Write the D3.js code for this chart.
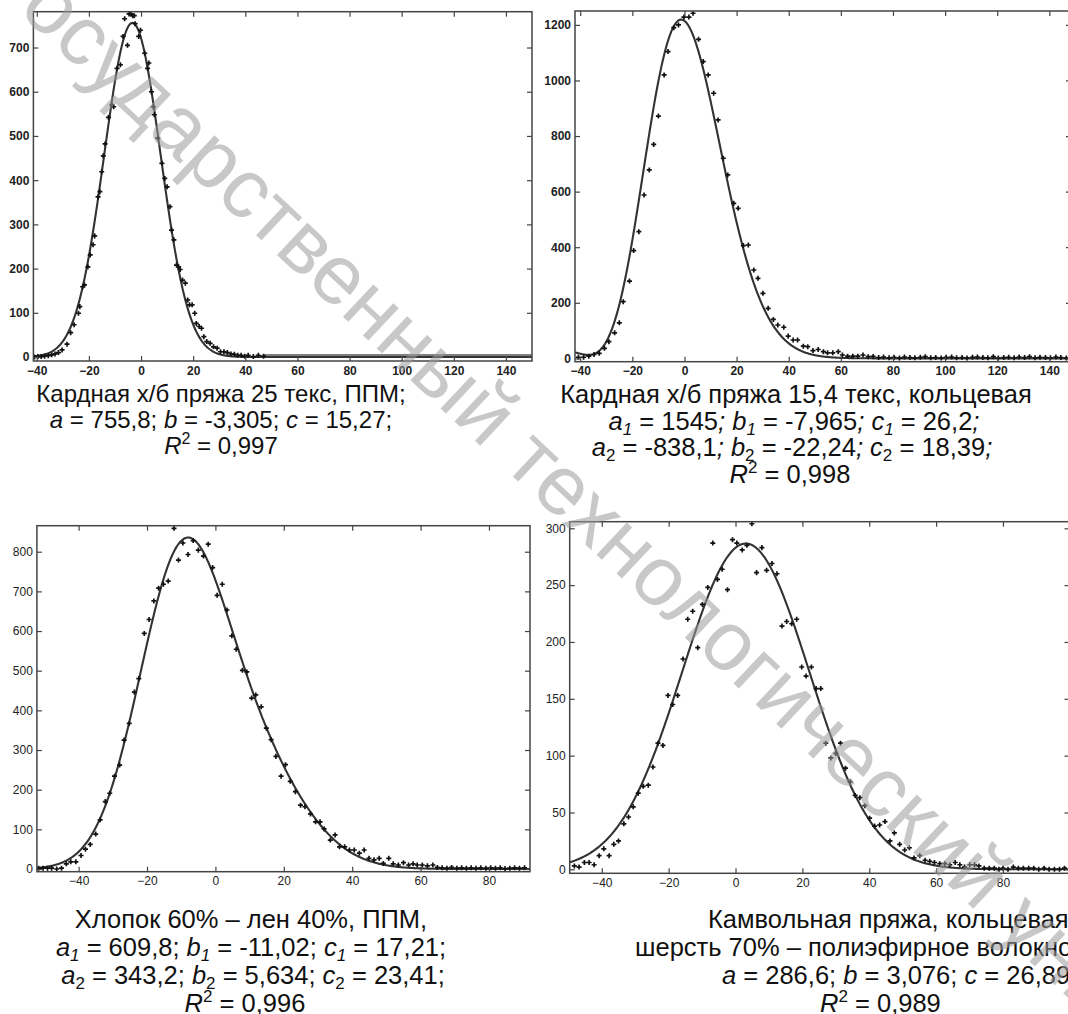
<!DOCTYPE html>
<html>
<head>
<meta charset="utf-8">
<script src="https://cdn.jsdelivr.net/npm/d3@7"></script>
<style>
  body { margin: 0; background: #fff; }
  svg { display: block; }
  text { font-family: "Liberation Sans", Arial, sans-serif; }
</style>
</head>
<body>
<svg id="chart" width="1068" height="1014"></svg>
<script>
// ---- panel 1: кардная х/б 25 текс, ППМ
var x1 = [-40.9, -39.6, -38.3, -37.0, -35.6, -34.3, -33.0, -31.7, -30.3, -28.4, -27.0, -25.7, -24.0, -23.5, -22.4, -21.7,
  -20.4, -19.5, -18.4, -17.8, -16.5, -15.8, -15.1, -14.5, -13.8, -12.5, -11.2, -10.5, -9.2, -7.9, -6.9, -6.3, -5.2, -4.6,
  -3.9, -3.2, -2.6, -2.3, -0.9, -0.2, 1.4, 2.5, 3.0, 4.0, 4.7, 5.1, 6.4, 8.0, 9.1, 10.0, 11.1, 11.7, 12.6, 13.6, 14.4, 15.0,
  15.9, 17.0, 17.9, 18.6, 19.6, 20.6, 21.2, 22.3, 23.2, 24.1, 25.2, 26.5, 27.8, 29.2, 30.5, 31.8, 33.1, 34.5, 35.8, 37.1,
  38.4, 39.8, 41.1, 43.1, 45.0, 47.0];
var y1 = [0, 1, 1, 2, 3, 5, 7, 10, 16, 29, 55, 73, 99, 114, 159, 163,
  204, 231, 254, 274, 362, 374, 419, 455, 482, 542, 570, 566, 653, 661, 725, 765, 705, 776,
  776, 772, 772, 754, 725, 739, 687, 653, 665, 600, 566, 548, 495, 438, 404, 385, 340, 287, 265, 208, 204, 198,
  174, 167, 129, 118, 118, 99, 76, 69, 65, 46, 35, 31, 23, 20, 12, 12, 10, 7, 6, 4,
  4, 2, 4, 1, 4, 2];
var tail1 = [[47, 4.5], [150, 4.5]];
var fit1 = [755.8, -3.305, 15.27];

// ---- panel 2: кардная х/б 15,4 текс, кольцевая
var x2 = [-40.7, -38.7, -36.7, -34.7, -32.7, -30.7, -29.0, -26.8, -25.0, -23.5, -21.1, -19.5, -17.5, -15.5, -13.5, -11.8,
  -10.0, -7.8, -6.3, -4.1, -2.3, -0.2, 1.7, 3.3, 5.4, 7.2, 9.1, 11.2, 12.9, 14.9, 16.6, 18.9, 20.6, 22.6, 24.5, 26.6,
  28.2, 30.1, 32.1, 34.1, 35.8, 38.1, 39.8, 41.7, 43.4, 45.6, 47.3, 49.3, 51.3, 53.3, 54.9, 56.9, 59.0, 60.6, 62.6, 64.6,
  66.5, 68.5, 70.5, 72.4, 74.5, 76.4, 78.5, 80.4, 82.5, 84.4, 86.5, 88.4, 90.5, 92.4, 94.5, 96.4, 98.5, 100.4, 102.5,
  104.4, 106.5, 108.4, 110.5, 112.4, 114.5, 116.4, 118.5, 120.4, 122.5, 124.4, 126.5, 128.4, 130.5, 132.4, 134.5, 136.4,
  138.5, 140.4, 142.5, 144.4, 146.5, 148.4];
var y2 = [4, 4, 8, 14, 18, 36, 60, 92, 128, 204, 278, 388, 456, 588, 678, 770,
  872, 1020, 1104, 1190, 1200, 1228, 1228, 1242, 1148, 1068, 1020, 954, 858, 720, 660, 558, 540, 406, 408, 318,
  288, 234, 180, 140, 120, 112, 80, 66, 66, 44, 42, 28, 32, 24, 20, 20, 24, 12, 8, 8,
  8, 12, 6, 7, 3, 5, 2, 4, 1, 5, 3, 2, 4, 6, 2, 3, 1, 4,
  5, 2, 3, 1, 4, 5, 3, 2, 6, 1, 3, 4, 2, 5, 3, 6, 2,
  4, 3, 2, 5, 3, 1, 4];
var fit2 = [1545, -7.965, 26.2, -838.1, -22.24, 18.39];

// ---- panel 3: хлопок 60% - лен 40%, ППМ
var x3 = [-51.7, -50.4, -49.1, -47.9, -46.4, -45.0, -43.6, -42.3, -40.8, -39.3, -38.0, -36.6, -35.0, -33.7, -32.2, -30.9,
  -29.5, -28.0, -26.7, -25.2, -23.7, -22.4, -20.8, -19.4, -18.0, -16.6, -15.2, -13.8, -12.1, -10.8, -9.5, -8.0, -6.5, -5.0,
  -3.5, -2.1, -0.8, 0.5, 2.0, 3.4, 4.8, 6.1, 7.9, 9.2, 10.6, 11.8, 13.4, 14.9, 16.3, 17.7, 19.2, 20.5, 21.9, 23.4, 24.9,
  26.2, 27.8, 29.3, 30.6, 31.8, 33.6, 35.0, 36.3, 37.8, 39.2, 40.6, 42.1, 43.5, 44.9, 46.4, 47.9, 49.1, 50.7, 52.0, 53.5,
  55.0, 56.5, 57.8, 59.0, 60.5, 62.0, 63.6, 64.9, 66.3, 67.7, 69.1, 70.6, 72.0, 73.4, 74.8, 76.2, 77.6, 79.1, 80.5, 81.9,
  83.3, 84.7, 86.1, 87.5, 88.9, 90.4];
var y3 = [2, 2, 2, 2, 0, 2, 13, 18, 18, 34, 50, 62, 88, 124, 170, 191,
  234, 262, 325, 367, 446, 480, 594, 629, 676, 708, 718, 726, 859, 779, 822, 793, 828, 804,
  789, 819, 760, 690, 718, 653, 588, 554, 501, 497, 431, 439, 409, 355, 326, 284, 234, 263, 221, 195, 161,
  157, 139, 119, 119, 101, 73, 86, 56, 56, 48, 48, 40, 48, 27, 23, 27, 14, 27, 13, 10,
  16, 10, 13, 10, 10, 8, 10, 4, 3, 2, 4, 2, 3, 2, 3, 2, 3, 2, 3, 2,
  3, 1, 2, 3, 2, 3];
var fit3 = [609.8, -11.02, 17.21, 343.2, 5.634, 23.41];

// ---- panel 4: камвольная, шерсть 70% - полиэфир
var x4 = [-48.2, -46.8, -45.2, -43.8, -42.3, -40.8, -39.4, -37.8, -36.4, -35.0, -33.4, -32.0, -30.6, -29.1, -27.6, -26.1,
  -24.7, -23.2, -21.7, -20.2, -18.8, -17.3, -15.7, -14.3, -12.8, -11.3, -9.9, -8.3, -6.8, -5.4, -4.0, -2.4, -0.9, 0.4,
  2.0, 3.4, 4.9, 6.3, 7.9, 9.3, 10.9, 12.4, 13.9, 15.3, 16.8, 18.3, 19.8, 21.1, 22.7, 24.1, 25.5, 27.0, 28.5, 30.0, 31.4,
  32.9, 34.3, 35.8, 37.2, 38.7, 40.1, 41.6, 43.1, 44.7, 46.2, 47.5, 49.1, 50.6, 52.0, 53.4, 55.1, 56.7, 58.1, 59.5, 61.1,
  62.6, 64.1, 65.7, 67.1, 68.5, 70.1, 71.5, 72.8, 74.4, 75.9, 77.4, 78.8, 80.0, 81.5, 83.1, 84.6, 86.1, 87.7, 89.2, 90.7,
  92.3, 93.8, 95.4, 96.9, 98.4];
var y4 = [3, 2, 6, 6, 4, 12, 18, 12, 22, 25, 40, 46, 55, 67, 73, 74,
  90, 111, 109, 153, 145, 153, 185, 220, 227, 195, 233, 248, 287, 255, 264, 246, 290, 287,
  281, 285, 304, 261, 283, 263, 269, 260, 214, 218, 216, 220, 178, 170, 178, 159, 159, 111, 98, 102, 111,
  89, 77, 65, 63, 56, 45, 38, 39, 42, 25, 32, 22, 17, 19, 10, 12, 8, 7, 6, 5,
  5, 4, 6, 4, 2, 4, 4, 3, 1, 1, 1, 0, 1, 0, 2, 1, 1, 1, 1, 0,
  1, 0, 0, 0, 1];
var fit4 = [286.6, 3.076, 26.89];

// axis limits and ticks
var xLim1 = [-41.3, 150], yLim1 = [-9, 781];
var xLim2 = [-42, 148.3], yLim2 = [-12, 1250];
var xLim3 = [-52.2, 92], yLim3 = [-6.8, 865.6];
var xLim4 = [-49.6, 99.9], yLim4 = [-3.5, 305.8];
var xTicksTop = [-40, -20, 0, 20, 40, 60, 80, 100, 120, 140];
var xTicksBottom = [-40, -20, 0, 20, 40, 60, 80];
var yTicks1 = [0, 100, 200, 300, 400, 500, 600, 700];
var yTicks2 = [0, 200, 400, 600, 800, 1000, 1200];
var yTicks3 = [0, 100, 200, 300, 400, 500, 600, 700, 800];
var yTicks4 = [0, 50, 100, 150, 200, 250, 300];

// captions: [text, style]  style: i = italic, sub, isub, sup
var cap1 = [
  [["Кардная х/б пряжа 25 текс, ППМ;"]],
  [["a", "i"], [" = 755,8; "], ["b", "i"], [" = -3,305; "], ["c", "i"], [" = 15,27;"]],
  [["R", "i"], ["2", "sup"], [" = 0,997"]]
];
var cap2 = [
  [["Кардная х/б пряжа 15,4 текс, кольцевая"]],
  [["a", "i"], ["1", "isub"], [" = 1545"], ["; b", "i"], ["1", "isub"], [" = -7,965"], ["; c", "i"], ["1", "isub"], [" = 26,2"], [";", "i"]],
  [["a", "i"], ["2", "sub"], [" = -838,1"], ["; b", "i"], ["2", "sub"], [" = -22,24"], ["; c", "i"], ["2", "sub"], [" = 18,39"], [";", "i"]],
  [["R", "i"], ["2", "sup"], [" = 0,998"]]
];
var cap3 = [
  [["Хлопок 60% – лен 40%, ППМ,"]],
  [["a", "i"], ["1", "isub"], [" = 609,8; "], ["b", "i"], ["1", "isub"], [" = -11,02; "], ["c", "i"], ["1", "isub"], [" = 17,21;"]],
  [["a", "i"], ["2", "sub"], [" = 343,2; "], ["b", "i"], ["2", "sub"], [" = 5,634; "], ["c", "i"], ["2", "sub"], [" = 23,41;"]],
  [["R", "i"], ["2", "sup"], [" = 0,996"]]
];
var cap4 = [
  [["Камвольная пряжа, кольцевая,"]],
  [["шерсть 70% – полиэфирное волокно 30%"]],
  [["a", "i"], [" = 286,6; "], ["b", "i"], [" = 3,076; "], ["c", "i"], [" = 26,89;"]],
  [["R", "i"], ["2", "sup"], [" = 0,989"]]
];

function gauss(p) {
  return function(x) {
    var v = 0;
    for (var k = 0; k < p.length; k += 3) {
      v += p[k] * Math.exp(-Math.pow((x - p[k + 1]) / p[k + 2], 2));
    }
    return v;
  };
}

var svg = d3.select('#chart');
svg.append('rect').attr('width', 1068).attr('height', 1014).attr('fill', '#fff');

var panels = [
  {box: [33.4, 11.7, 532, 361], xs: x1, ys: y1, fit: fit1, xl: xLim1, yl: yLim1, xt: xTicksTop, yt: yTicks1, bold: true, tail: tail1},
  {box: [575, 11, 1071, 361.7], xs: x2, ys: y2, fit: fit2, xl: xLim2, yl: yLim2, xt: xTicksTop, yt: yTicks2, bold: true},
  {box: [36.9, 525.7, 530, 871.7], xs: x3, ys: y3, fit: fit3, xl: xLim3, yl: yLim3, xt: xTicksBottom, yt: yTicks3, bold: false},
  {box: [569.7, 521.7, 1069.5, 873.3], xs: x4, ys: y4, fit: fit4, xl: xLim4, yl: yLim4, xt: xTicksBottom, yt: yTicks4, bold: false}
];

panels.forEach(function(p, i) {
  var b = p.box;
  var x = d3.scaleLinear().domain(p.xl).range([b[0], b[2]]);
  var y = d3.scaleLinear().domain(p.yl).range([b[3], b[1]]);
  var g = svg.append('g');

  g.append('clipPath').attr('id', 'clip' + i)
    .append('rect').attr('x', b[0]).attr('y', b[1]).attr('width', b[2] - b[0]).attr('height', b[3] - b[1]);

  var plot = g.append('g').attr('clip-path', 'url(#clip' + i + ')');

  var f = gauss(p.fit);
  var xsCurve = d3.range(p.xl[0], p.xl[1] + 0.25, 0.25);
  plot.append('path')
    .datum(xsCurve)
    .attr('fill', 'none')
    .attr('stroke', '#333')
    .attr('stroke-width', 2.1)
    .attr('d', d3.line().x(function(d) { return x(d); }).y(function(d) { return y(f(d)); }));

  if (p.tail) {
    plot.append('path')
      .datum(p.tail)
      .attr('fill', 'none')
      .attr('stroke', '#555')
      .attr('stroke-width', 1.6)
      .attr('d', d3.line().x(function(d) { return x(d[0]); }).y(function(d) { return y(d[1]); }));
  }

  var sym = d3.symbol().type(d3.symbolCross).size(14);
  plot.selectAll('path.pt')
    .data(p.xs.map(function(v, k) { return [v, p.ys[k]]; }))
    .enter().append('path')
    .attr('class', 'pt')
    .attr('transform', function(d) { return 'translate(' + x(d[0]) + ',' + y(d[1]) + ')'; })
    .attr('d', sym)
    .attr('fill', '#111');

  // axes with inward ticks on all four sides
  var fw = p.bold ? 'bold' : 'normal';
  var ax = [
    [d3.axisBottom(x).tickValues(p.xt).tickSize(-5).tickPadding(5).tickFormat(d3.format('d')), 'translate(0,' + b[3] + ')'],
    [d3.axisTop(x).tickValues(p.xt).tickSize(-5).tickFormat(''), 'translate(0,' + b[1] + ')'],
    [d3.axisLeft(y).tickValues(p.yt).tickSize(-5).tickPadding(4).tickFormat(d3.format('d')), 'translate(' + b[0] + ',0)'],
    [d3.axisRight(y).tickValues(p.yt).tickSize(-5).tickFormat(''), 'translate(' + b[2] + ',0)']
  ];
  ax.forEach(function(a) {
    var ag = g.append('g').attr('transform', a[1]).call(a[0].tickSizeOuter(0));
    ag.select('.domain').remove();
    ag.selectAll('line').attr('stroke', '#444').attr('stroke-width', 1.2);
    ag.selectAll('text')
      .style('font-family', '"Liberation Sans", Arial, sans-serif')
      .style('font-size', '12px')
      .style('font-weight', fw)
      .attr('fill', '#222');
  });

  g.append('rect')
    .attr('x', b[0]).attr('y', b[1]).attr('width', b[2] - b[0]).attr('height', b[3] - b[1])
    .attr('fill', 'none').attr('stroke', '#444').attr('stroke-width', 1.5);
});

// captions; xs = one x per line, anchor = middle or start
function caption(lines, xs, anchor, y0, step, fs) {
  lines.forEach(function(line, li) {
    var t = svg.append('text')
      .attr('x', xs[li]).attr('y', y0 + li * step)
      .attr('text-anchor', anchor)
      .style('font-size', fs + 'px')
      .attr('fill', '#111');
    var cur = 0;
    line.forEach(function(seg) {
      var st = seg[1] || '';
      var s = (st === 'sub' || st === 'isub') ? 5 : (st === 'sup' ? -10 : 0);
      var ts = t.append('tspan').attr('dy', s - cur).text(seg[0]);
      cur = s;
      if (st === 'i' || st === 'isub') ts.style('font-style', 'italic');
      if (st === 'sub' || st === 'isub' || st === 'sup') ts.style('font-size', Math.round(fs * 0.65) + 'px');
    });
  });
}
caption(cap1, [221, 221, 221], 'middle', 402, 26, 24);
caption(cap2, [796, 794, 792, 790], 'middle', 403, 26.5, 25.5);
caption(cap3, [251, 251, 253, 245], 'middle', 928, 28, 25.5);
caption(cap4, [708, 635, 722, 820], 'start', 928, 28, 25.5);

// watermark
svg.append('text')
  .attr('transform', 'translate(-4,-9) rotate(43.2)')
  .style('font-size', '84px')
  .attr('fill', '#9a9a9a')
  .attr('fill-opacity', 0.55)
  .text('государственный технологический университет');
</script>
</body>
</html>
